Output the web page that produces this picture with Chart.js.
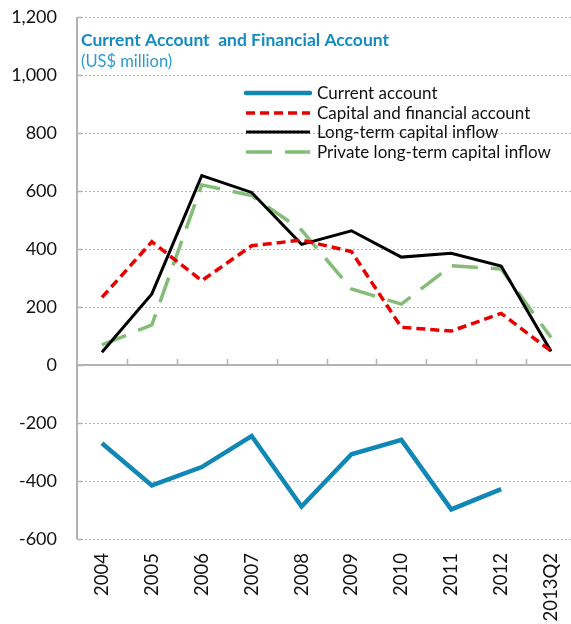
<!DOCTYPE html>
<html>
<head>
<meta charset="utf-8">
<script src="https://cdn.jsdelivr.net/npm/chart.js@4/dist/chart.umd.min.js"></script>
<style>
html,body{margin:0;padding:0;background:#fff;overflow:hidden;}
#wrap{position:relative;width:571px;height:624px;overflow:hidden;}
canvas{display:block;}
</style>
</head>
<body>
<div id="wrap"><canvas id="c" width="580" height="624"></canvas></div>
<script>
const categories = ['2004','2005','2006','2007','2008','2009','2010','2011','2012','2013Q2'];
const currentAccount = [-270, -415, -352, -245, -488, -308, -258, -498, -428, null];
const capitalFinancial = [233, 425, 291, 411, 431, 391, 130, 117, 178, 48];
const longTermInflow = [44, 245, 653, 595, 416, 463, 372, 385, 341, 47];
const privateLongTerm = [69, 138, 621, 584, 465, 262, 210, 342, 331, 95];
const yTicks = [-600, -400, -200, 0, 200, 400, 600, 800, 1000, 1200];
const titleText = 'Current Account  and Financial Account';
const subtitleText = '(US$ million)';

const FONT = 'Lato, "Open Sans", sans-serif';

const overlay = {
  id: 'overlay',
  beforeDatasetsDraw(chart) {
    const ctx = chart.ctx;
    const area = chart.chartArea;
    const ys = chart.scales.y;
    ctx.save();
    ctx.strokeStyle = '#b5b5b5';
    ctx.lineWidth = 1;
    ctx.setLineDash([2, 2]);
    yTicks.forEach(v => {
      if (v === 0) return;
      const y = Math.round(ys.getPixelForValue(v)) + 0.5;
      ctx.beginPath();
      ctx.moveTo(area.left, y);
      ctx.lineTo(area.right, y);
      ctx.stroke();
    });
    ctx.restore();
  },
  afterDraw(chart) {
    const ctx = chart.ctx;
    const area = chart.chartArea;
    const ys = chart.scales.y;
    ctx.save();
    // left axis line
    ctx.strokeStyle = '#b3b3b3';
    ctx.lineWidth = 2;
    ctx.setLineDash([]);
    ctx.beginPath();
    ctx.moveTo(area.left, area.top);
    ctx.lineTo(area.left, area.bottom);
    ctx.stroke();
    // inner y ticks
    ctx.lineWidth = 1.5;
    yTicks.forEach(v => {
      const y = Math.round(ys.getPixelForValue(v)) + 0.5;
      ctx.beginPath();
      ctx.moveTo(area.left, y);
      ctx.lineTo(area.left + 5, y);
      ctx.stroke();
    });
    // zero line
    const y0 = Math.round(ys.getPixelForValue(0));
    ctx.lineWidth = 2;
    ctx.beginPath();
    ctx.moveTo(area.left, y0);
    ctx.lineTo(area.right, y0);
    ctx.stroke();
    // category boundary ticks
    ctx.lineWidth = 1.5;
    const n = categories.length;
    const step = (area.right - area.left) / n;
    for (let i = 1; i <= n; i++) {
      const x = Math.round(area.left + i * step) + 0.5;
      ctx.beginPath();
      ctx.moveTo(x, y0);
      ctx.lineTo(x, y0 - 6);
      ctx.stroke();
    }
    // title
    ctx.textBaseline = 'alphabetic';
    ctx.textAlign = 'left';
    ctx.fillStyle = '#168bbf';
    ctx.font = 'bold 17.5px ' + FONT;
    ctx.fillText(titleText, 81, 46);
    ctx.fillStyle = '#2e9bd0';
    ctx.font = '16.5px ' + FONT;
    ctx.fillText(subtitleText, 81, 67);
    // legend
    const rows = [93, 113, 132, 152];
    ctx.font = '17px ' + FONT;
    ctx.textBaseline = 'middle';
    chart.data.datasets.forEach((ds, i) => {
      const y = rows[i];
      ctx.strokeStyle = ds.borderColor;
      ctx.lineWidth = ds.borderWidth;
      ctx.lineCap = ds.legendCap || 'butt';
      ctx.setLineDash(ds.borderDash || []);
      ctx.beginPath();
      ctx.moveTo(246, y);
      ctx.lineTo(310, y);
      ctx.stroke();
      ctx.setLineDash([]);
      ctx.fillStyle = '#111';
      ctx.fillText(ds.label, 317, y + 1);
    });
    ctx.restore();
  }
};

new Chart(document.getElementById('c'), {
  type: 'line',
  data: {
    labels: categories,
    datasets: [
      { label: 'Current account', data: currentAccount, borderColor: '#1187b5', borderWidth: 4.5,
        pointRadius: 0, tension: 0, spanGaps: false, legendCap: 'round' },
      { label: 'Capital and financial account', data: capitalFinancial, borderColor: '#e60000', borderWidth: 3.5,
        borderDash: [9, 5], pointRadius: 0, tension: 0 },
      { label: 'Long-term capital inflow', data: longTermInflow, borderColor: '#000000', borderWidth: 3,
        pointRadius: 0, tension: 0 },
      { label: 'Private long-term capital inflow', data: privateLongTerm, borderColor: '#84bd78', borderWidth: 3.5,
        borderDash: [26, 13], pointRadius: 0, tension: 0 }
    ]
  },
  options: {
    responsive: false,
    animation: false,
    layout: { padding: { top: 17, right: 4, left: 0, bottom: 0 } },
    plugins: { legend: { display: false }, title: { display: false }, tooltip: { enabled: false } },
    scales: {
      x: {
        offset: true,
        grid: { display: false, drawTicks: false },
        border: { display: false },
        ticks: { minRotation: 90, maxRotation: 90, autoSkip: false, padding: 14, color: '#111',
                 font: { family: FONT, size: 18.5 } },
        afterFit(s) { s.height = 85; s.paddingLeft = 0; s.paddingRight = 0; }
      },
      y: {
        min: -600, max: 1200,
        afterBuildTicks(s) { s.ticks = yTicks.map(v => ({ value: v })); },
        grid: { display: false, drawTicks: false },
        border: { display: false },
        ticks: { padding: 20, color: '#111', font: { family: FONT, size: 18 },
                 callback: v => (v < 0 ? '-' : '') + Math.abs(v).toLocaleString('en-US') },
        afterFit(s) { s.width = 77; s.paddingTop = 0; s.paddingBottom = 0; }
      }
    }
  },
  plugins: [overlay]
});
</script>
</body>
</html>
